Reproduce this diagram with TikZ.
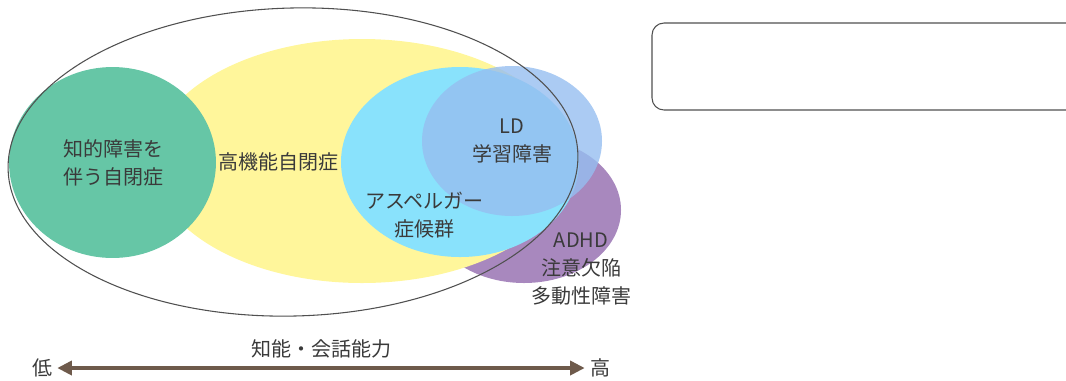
\documentclass[tikz,border=0pt]{standalone}
\usepackage{fontspec}
\setmainfont{Noto Sans CJK JP}
\usetikzlibrary{arrows.meta}
\definecolor{cgreen}{RGB}{102,198,166}
\definecolor{cyellow}{RGB}{255,246,155}
\definecolor{ccyan}{RGB}{137,226,252}
\definecolor{cld}{RGB}{150,190,240}
\definecolor{cpurple}{RGB}{168,136,190}
\definecolor{cline}{RGB}{80,80,80}
\definecolor{ctext}{RGB}{58,58,58}
\definecolor{carrow}{RGB}{110,90,75}
\begin{document}
\begin{tikzpicture}[x=0.75pt,y=-0.75pt,
  lbl/.style={text=ctext,font=\fontsize{15pt}{21pt}\selectfont,align=center,inner sep=0pt},
  outline/.style={draw=cline,line width=0.8pt},
  axisarrow/.style={draw=carrow,line width=3pt,
    {Triangle[length=11pt,width=10.5pt]}-{Triangle[length=11pt,width=10.5pt]}},
  endlbl/.style={text=ctext,font=\fontsize{15pt}{21pt}\selectfont,inner sep=3.75pt}]
\useasboundingbox (0,0) rectangle (1066,380);
\begin{scope}
  \clip (0,0) rectangle (1066,380);
  \draw[cline,line width=0.8pt,rounded corners=9pt] (652,23) rectangle (1085,110);
\end{scope}
% shapes
\fill[cpurple] (524,210) ellipse [x radius=72.75pt, y radius=54.75pt];
\fill[cyellow] (362,161) ellipse [x radius=157.5pt, y radius=91.5pt];
\fill[cgreen] (112.5,162.5) ellipse [x radius=77.6pt, y radius=71.6pt];
\fill[ccyan] (460,162) ellipse [x radius=89.25pt, y radius=71.25pt];
\fill[cld,fill opacity=0.8] (512,141) ellipse [x radius=67.5pt, y radius=56.25pt];
\draw[outline,rotate around={1.5:(293,162)}] (293,162) ellipse [x radius=213.75pt, y radius=115.5pt];
% labels
\node[lbl] (id) at (113,163) {知的障害を\\伴う自閉症};
\node[lbl] (hfa) at (278,162) {高機能自閉症};
\node[lbl] (ld) at (512,141) {LD\\学習障害};
\node[lbl] (as) at (424,215) {アスペルガー\\症候群};
\node[lbl] (adhd) at (581,269) {ADHD\\注意欠陥\\多動性障害};
\node[lbl] (ax) at (321,349) {知能・会話能力};
\node[endlbl] (lo) at (42,368) {低};
\node[endlbl] (hi) at (600,368) {高};
\draw[axisarrow] (lo.east) -- (hi.west);
\end{tikzpicture}
\end{document}
